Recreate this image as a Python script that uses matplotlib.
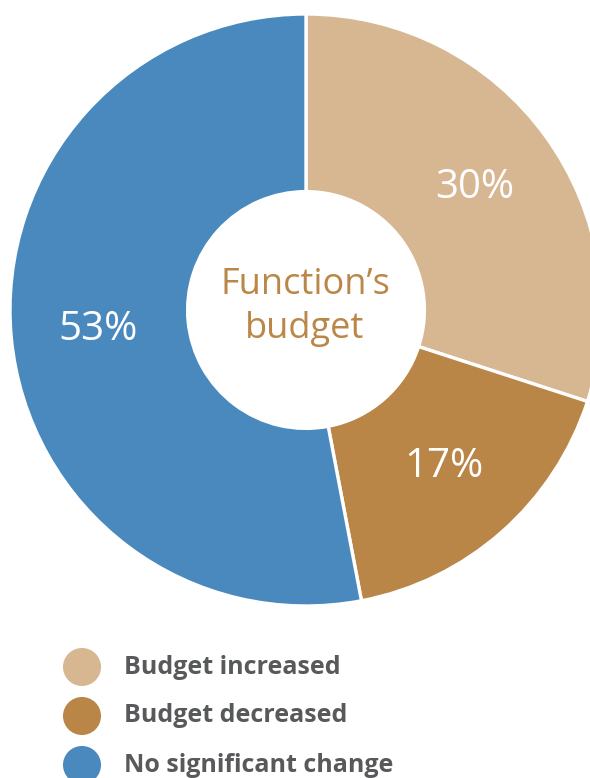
import matplotlib
matplotlib.use("Agg")
import matplotlib.pyplot as plt

# data
categories = ["Budget increased", "Budget decreased", "No significant change"]
shares = [30, 17, 53]
colors = ["#D7B792", "#BA8647", "#4A89BE"]
center_label = "Function\u2019s\nbudget"

W, H = 590, 778
fig = plt.figure(figsize=(W / 100, H / 100), dpi=100)
ax = fig.add_axes([0, 0, 1, 1])

wedges, texts, autotexts = ax.pie(
    shares, colors=colors, startangle=90, counterclock=False,
    center=(306, H - 310), radius=296,
    wedgeprops=dict(width=296 * 0.6, edgecolor="white", linewidth=2.4),
    autopct=lambda p: f"{p:.0f}%", pctdistance=0.705,
    textprops=dict(color="white", fontsize=29, family="Open Sans", weight="normal"),
)

ax.text(305, H - 307, center_label, ha="center", va="center", color="#BB8748",
        fontsize=26, family="Open Sans", weight="normal", linespacing=1.3)

# legend
for i, (lab, c) in enumerate(zip(categories, colors)):
    y = H - (667 + i * 49)
    ax.scatter([82], [y], s=750, color=c, edgecolors="none")
    ax.text(124, y, lab, ha="left", va="center", color="#58595B",
            fontsize=18, family="Open Sans", weight="bold")

ax.set_xlim(0, W)
ax.set_ylim(0, H)
ax.set_aspect("equal")
ax.axis("off")
fig.savefig("out.png", dpi=100)
